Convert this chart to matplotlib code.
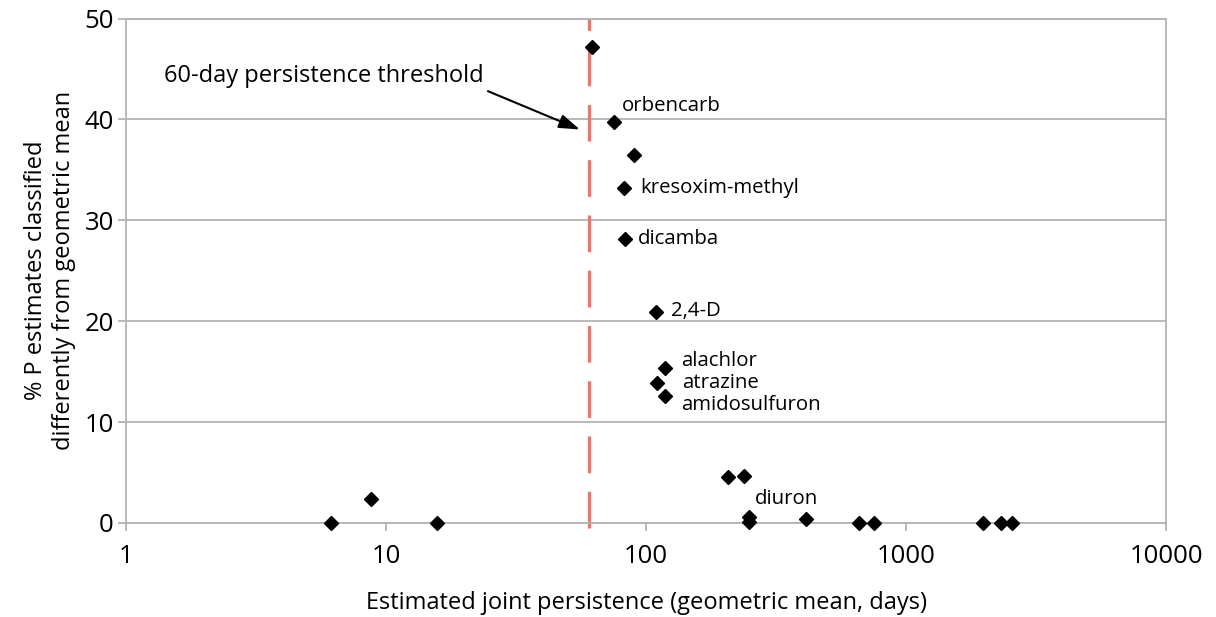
import matplotlib
matplotlib.use("Agg")
import matplotlib.pyplot as plt
import numpy as np

plt.rcParams['font.family'] = ['Open Sans', 'DejaVu Sans']

# persistence (days, geometric mean) vs % of P estimates classified differently
persistence = [62, 75.3, 89.9, 82.3, 83, 109, 118, 110, 118,
               207, 238, 249, 249, 412, 659, 753, 1977, 2318, 2557,
               6.14, 8.75, 15.7]
pct_diff = [47.2, 39.7, 36.5, 33.2, 28.1, 20.9, 15.4, 13.9, 12.6,
            4.6, 4.7, 0.55, 0.1, 0.35, 0, 0, 0, 0, 0,
            0, 2.4, 0]

# labelled compounds: name, index into the arrays above, offset in pixels
labels = ["orbencarb", "kresoxim-methyl", "dicamba", "2,4-D",
          "alachlor", "atrazine", "amidosulfuron", "diuron"]
label_idx = [1, 3, 4, 5, 6, 7, 8, 11]
label_off = [(8, 16), (16, 0), (13, 0), (15, 1), (16, 7), (25, 0), (16, -9), (6, 18)]

threshold = 60

grid_col = '#b3b3b3'

fig = plt.figure(figsize=(12.16, 6.17), dpi=100)
ax = fig.add_axes([0.104, 0.1524, 0.8549, 0.8176])

ax.set_xscale('log')
ax.set_xlim(1, 10000)
ax.set_ylim(0, 50)
ax.set_yticks([0, 10, 20, 30, 40, 50])
ax.set_xticks([1, 10, 100, 1000, 10000])
ax.set_xticklabels(['1', '10', '100', '1000', '10000'])
ax.xaxis.set_minor_locator(matplotlib.ticker.NullLocator())

ax.yaxis.grid(True, color=grid_col, linewidth=1.3)
ax.set_axisbelow(True)
for s in ax.spines.values():
    s.set_color(grid_col)
    s.set_linewidth(1.3)
ax.tick_params(axis='both', colors=grid_col, length=6, width=1.3,
               labelcolor='black', labelsize=18.5)
ax.tick_params(axis='x', pad=9)
ax.tick_params(axis='y', pad=3)

ax.axvline(threshold, color='#e07a72', linewidth=2.3, dashes=(11.5, 5.8),
           zorder=2, clip_on=False, ymin=-0.01, ymax=1.0)

ax.plot(persistence, pct_diff, linestyle='none', marker='D', markersize=7.5,
        color='black', zorder=3, clip_on=False)

for name, i, (dx, dy) in zip(labels, label_idx, label_off):
    ax.annotate(name, (persistence[i], pct_diff[i]), xytext=(dx, dy),
                textcoords='offset pixels', ha='left', va='center', fontsize=14.7)

ax.text(23.6, 44.3, "60-day persistence threshold", ha='right', va='center', fontsize=17)
ax.annotate("", xy=(55.5, 39.0), xytext=(24.6, 42.8),
            arrowprops=dict(arrowstyle='-|>,head_length=0.9,head_width=0.3', color='black',
                            lw=1.5, mutation_scale=14, shrinkA=0, shrinkB=0))

ax.set_xlabel("Estimated joint persistence (geometric mean, days)", fontsize=17, labelpad=16)
ax.set_ylabel("% P estimates classified\ndifferently from geometric mean", fontsize=17,
              labelpad=6, linespacing=1.25)

fig.savefig('out.png', dpi=100)
